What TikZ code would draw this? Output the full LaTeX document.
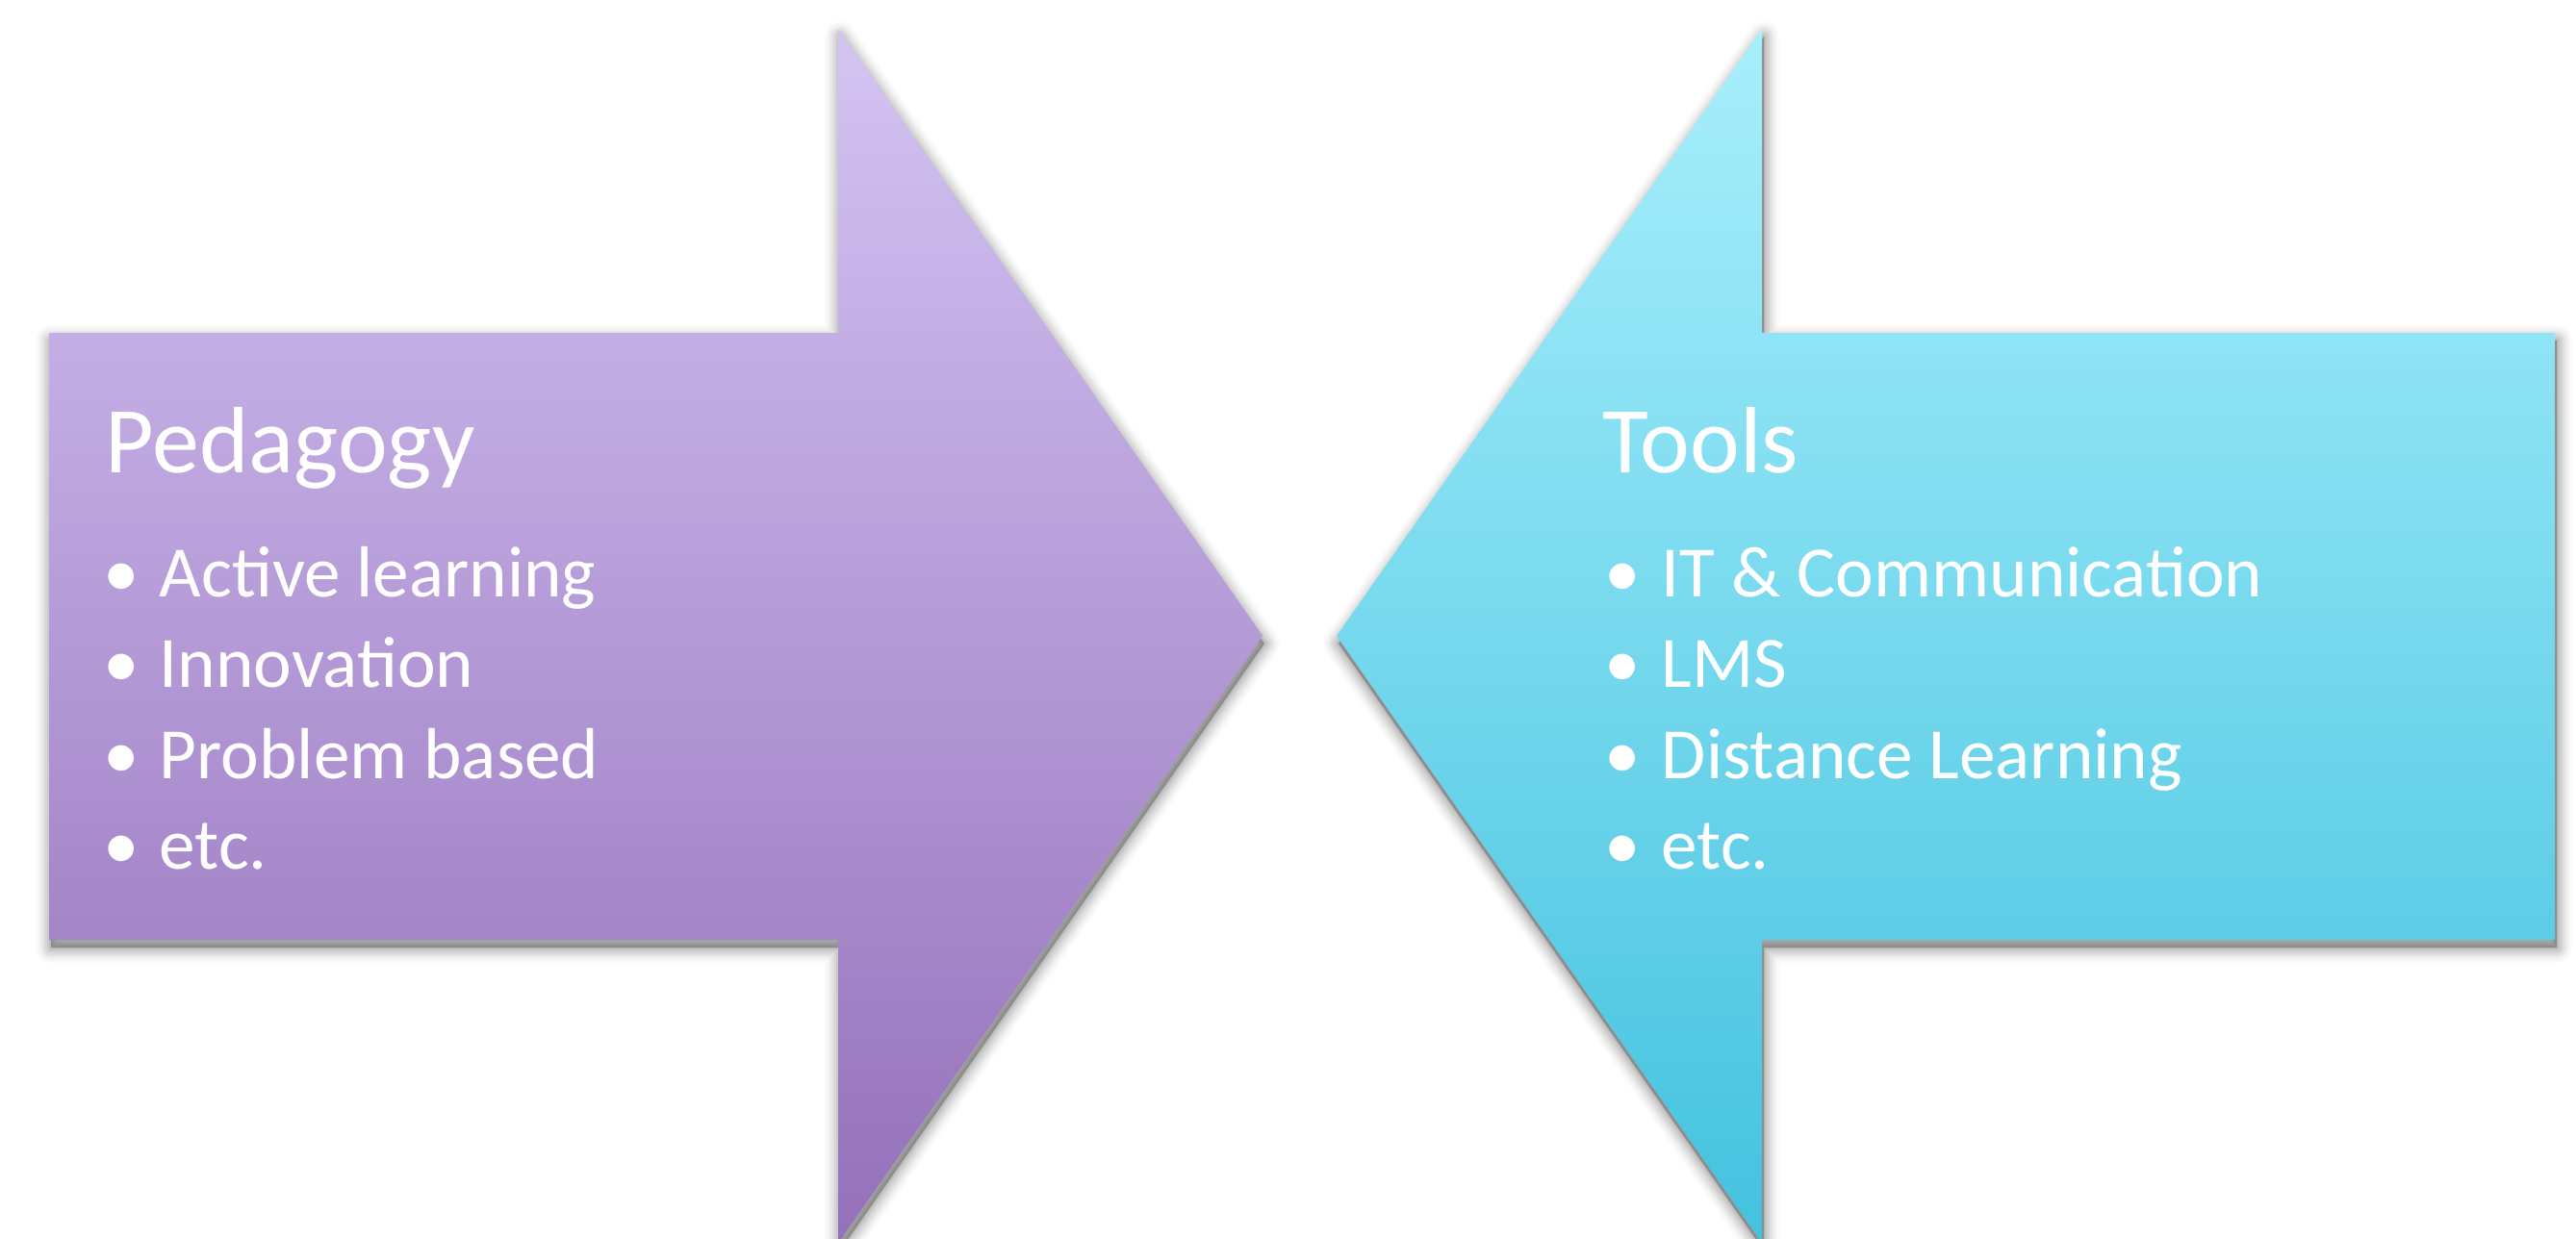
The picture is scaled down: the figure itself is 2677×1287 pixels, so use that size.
\documentclass[tikz,border=0pt]{standalone}
\usepackage{fontspec}
\setmainfont{Carlito}
\definecolor{pedtop}{HTML}{D4C4F3}
\definecolor{pedbot}{HTML}{9470BA}
\definecolor{tooltop}{HTML}{A9EFFC}
\definecolor{toolbot}{HTML}{43C2DF}
\tikzset{
  ttl/.style={anchor=base west, inner sep=0pt, text=white, font=\fontsize{24.5}{29}\selectfont},
  itm/.style={anchor=base west, inner sep=0pt, text=white, font=\fontsize{18.8}{22}\selectfont},
  bul/.style={anchor=base, inner sep=0pt, text=white, font=\fontsize{18.8}{22}\selectfont},
  shadowlayer/.style={fill=black, draw=black, line join=round},
}
\def\pedpath{(51,346) -- (871,346) -- (871,30) -- (1312,661) -- (871,1292) -- (871,977) -- (51,977) -- cycle}
\def\toolpath{(2655,346) -- (1831,346) -- (1831,30) -- (1389,661) -- (1831,1292) -- (1831,977) -- (2655,977) -- cycle}
\begin{document}
\begin{tikzpicture}[x=0.25pt, y=-0.25pt]
\useasboundingbox (0,0) rectangle (2677,1287);
\fill[white] (0,0) rectangle (2677,1287);
% soft shadows
\begin{scope}[shift={(2,8)}]
\foreach \w/\o in {8/0.015,7/0.02,6/0.025,5/0.03,4/0.035,3/0.04,2/0.05,1/0.06} {
  \filldraw[shadowlayer, opacity=\o, line width=\w pt] \pedpath;
  \filldraw[shadowlayer, opacity=\o, line width=\w pt] \toolpath;
}
\end{scope}
% arrows
\shade[top color=pedtop, bottom color=pedbot] \pedpath;
\shade[top color=tooltop, bottom color=toolbot] \toolpath;
% left texts
\node[ttl] (pedtitle) at (109,491) {Pedagogy};
\node[bul] (pb1) at (126,620) {•};
\node[itm] (p1) at (165,620) {Active learning};
\node[bul] (pb2) at (126,714) {•};
\node[itm] (p2) at (165,714) {Innovation};
\node[bul] (pb3) at (126,809) {•};
\node[itm] (p3) at (165,809) {Problem based};
\node[bul] (pb4) at (126,903) {•};
\node[itm] (p4) at (165,903) {etc.};
% right texts
\node[ttl] (tooltitle) at (1665,491) {Tools};
\node[bul] (tb1) at (1686,620) {•};
\node[itm] (t1) at (1726,620) {IT \& Communication};
\node[bul] (tb2) at (1686,714) {•};
\node[itm] (t2) at (1726,714) {LMS};
\node[bul] (tb3) at (1686,809) {•};
\node[itm] (t3) at (1726,809) {Distance Learning};
\node[bul] (tb4) at (1686,903) {•};
\node[itm] (t4) at (1726,903) {etc.};
\end{tikzpicture}
\end{document}
